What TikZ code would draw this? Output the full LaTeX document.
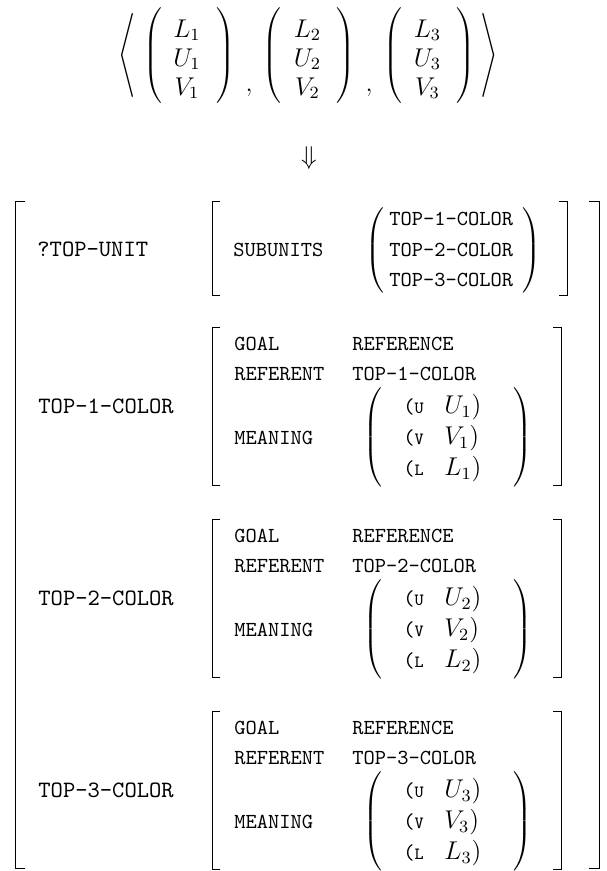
\documentclass[tikz,border=0pt]{standalone}
\usepackage{graphicx}
\newcommand\mylp[1]{\resizebox*{\width}{#1}{$\delimiterfactor=1000\delimitershortfall=0pt\nulldelimiterspace=0pt\left(\vcenter{\hbox{\rule{0pt}{#1}}}\right.$}}
\newcommand\myrp[1]{\resizebox*{\width}{#1}{$\delimiterfactor=1000\delimitershortfall=0pt\nulldelimiterspace=0pt\left.\vcenter{\hbox{\rule{0pt}{#1}}}\right)$}}
\tikzset{
  outerlbl/.style={font=\fontsize{10.95}{13}\selectfont\ttfamily, anchor=base west, inner sep=0pt},
  innerlbl/.style={font=\fontsize{10}{12}\selectfont\ttfamily, anchor=base west, inner sep=0pt},
  mth/.style={font=\fontsize{12}{14}\selectfont, anchor=base, inner sep=0pt},
  mthw/.style={font=\fontsize{12}{14}\selectfont, anchor=base west, inner sep=0pt},
  dl/.style={font=\fontsize{12}{14}\selectfont, anchor=center, inner sep=0pt},
  brk/.style={line width=0.45pt, line cap=rect},
}
\begin{document}
\begin{tikzpicture}[x=0.4673pt,y=-0.4673pt]
\useasboundingbox (0,0) rectangle (606,871);
% ---- top tuple ----
\node[dl] (la) at (127,55) {\resizebox*{\width}{39.3pt}{$\Biggl\langle$}};
\node[dl] (ra) at (489,55) {\resizebox*{\width}{39.3pt}{$\Biggr\rangle$}};
\node[dl] (lpa) at (152.5,55.5) {\mylp{44.4pt}};
\node[dl] (rpa) at (225.5,55.5) {\myrp{44.4pt}};
\node[dl] (lpb) at (271.5,55.5) {\mylp{44.4pt}};
\node[dl] (rpb) at (345.5,55.5) {\myrp{44.4pt}};
\node[dl] (lpc) at (392.5,55.5) {\mylp{44.4pt}};
\node[dl] (rpc) at (465.5,55.5) {\myrp{44.4pt}};
\node[mth] (ca) at (249,91) {$,$};
\node[mth] (cb) at (369,91) {$,$};
\foreach \i/\cx in {1/187,2/307.5,3/427.5}{
  \node[mth] (tl\i) at (\cx,37) {$L_\i$};
  \node[mth] (tu\i) at (\cx,66) {$U_\i$};
  \node[mth] (tv\i) at (\cx,95) {$V_\i$};
}
\node[dl] (arr) at (309,158) {$\Downarrow$};
% ---- outer bracket ----
\draw[brk] (25,201) -- (15,201) -- (15,868) -- (25,868);
\draw[brk] (589,201) -- (599,201) -- (599,868) -- (589,868);
\node[outerlbl] (unit) at (37,256) {?TOP-UNIT};
% ---- SUBUNITS ----
\draw[brk] (220,201) -- (212,201) -- (212,295) -- (220,295);
\draw[brk] (559,201) -- (567,201) -- (567,295) -- (559,295);
\node[innerlbl] (sub) at (233,256) {SUBUNITS};
\node[dl] (slp) at (374.5,250.5) {\mylp{39.7pt}};
\node[dl] (srp) at (532,250.5) {\myrp{39.7pt}};
\node[innerlbl] (s1) at (389,225.5) {TOP-1-COLOR};
\node[innerlbl] (s2) at (389,256) {TOP-2-COLOR};
\node[innerlbl] (s3) at (389,286.5) {TOP-3-COLOR};
% ---- three colour blocks ----
\foreach \k/\d in {1/0,2/192,3/384}{
  \node[outerlbl] (c\k) at (38,413+\d) {TOP-\k-COLOR};
  \draw[brk] (220,327+\d) -- (212,327+\d) -- (212,485+\d) -- (220,485+\d);
  \draw[brk] (553,327+\d) -- (561,327+\d) -- (561,485+\d) -- (553,485+\d);
  \node[innerlbl] (goal\k) at (234,350.5+\d) {GOAL};
  \node[innerlbl] (ref\k) at (352,350.5+\d) {REFERENCE};
  \node[innerlbl] (rfn\k) at (234,380+\d) {REFERENT};
  \node[innerlbl] (rfv\k) at (352,380+\d) {TOP-\k-COLOR};
  \node[innerlbl] (mn\k) at (234,444.5+\d) {MEANING};
  \node[dl] (mlp\k) at (373,437+\d) {\mylp{46.5pt}};
  \node[dl] (mrp\k) at (523,437+\d) {\myrp{46.5pt}};
  \node[innerlbl] (mu\k) at (403,413.5+\d) {({\fontsize{8}{9}\selectfont U}};
  \node[innerlbl] (mv\k) at (403,444.5+\d) {({\fontsize{8}{9}\selectfont V}};
  \node[innerlbl] (ml\k) at (403,475.5+\d) {({\fontsize{8}{9}\selectfont L}};
  \node[mthw] (xu\k) at (444,413.5+\d) {$U_\k)$};
  \node[mthw] (xv\k) at (444,444.5+\d) {$V_\k)$};
  \node[mthw] (xl\k) at (444,475.5+\d) {$L_\k)$};
}
\end{tikzpicture}
\end{document}
